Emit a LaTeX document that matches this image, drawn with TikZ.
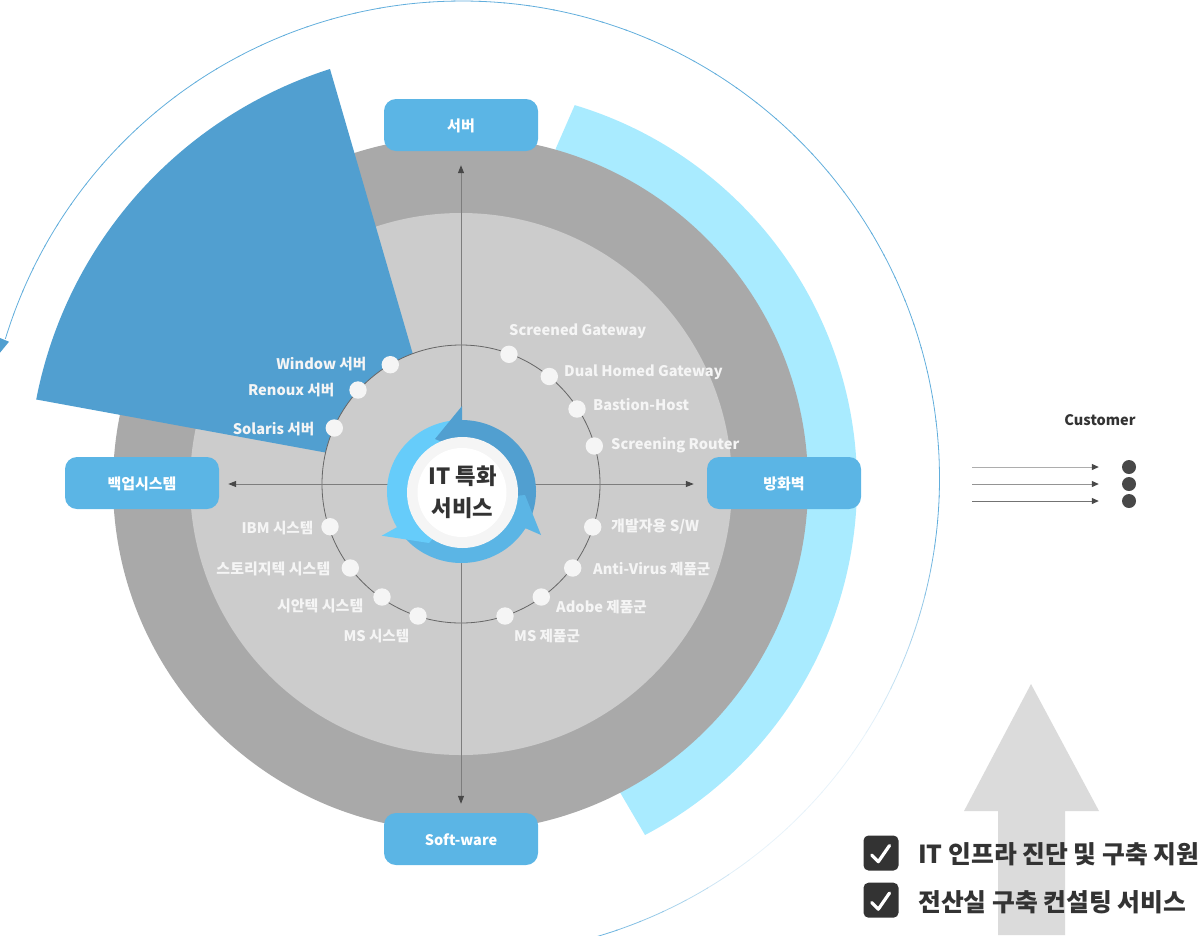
\documentclass[tikz,border=0pt]{standalone}
\usepackage{fontspec}
\setmainfont{Noto Sans CJK KR}
\usetikzlibrary{arrows.meta}
\definecolor{gOuter}{HTML}{A9A9A9}
\definecolor{gInner}{HTML}{CCCCCC}
\definecolor{skyPale}{HTML}{A9EBFF}
\definecolor{blueDark}{HTML}{519FD0}
\definecolor{blueMid}{HTML}{5BB5E5}
\definecolor{blueLight}{HTML}{66CCFA}
\definecolor{arcBlue}{HTML}{62AEDC}
\definecolor{dotWhite}{HTML}{F5F5F5}
\definecolor{inkDark}{HTML}{333333}
\definecolor{axisGray}{HTML}{7D7D7D}
\definecolor{tipGray}{HTML}{484848}
\tikzset{
  x=1pt,y=1pt,
  catbox/.style={draw=none,fill=blueMid,rounded corners=12pt,minimum width=154pt,minimum height=52pt,inner sep=0pt,text=white,text height=13pt,text depth=0pt,font=\fontsize{15}{15}\selectfont\bfseries},
  ringdot/.style={circle,fill=dotWhite,draw=none,minimum size=17.4pt,inner sep=0pt},
  itemlabel/.style={text=dotWhite,font=\fontsize{14.6}{15}\selectfont\bfseries,inner sep=0pt},
  korlabel/.style={itemlabel,font=\fontsize{15}{15}\selectfont\bfseries},
  axisline/.style={draw=axisGray,line width=1pt,{Triangle[length=8pt,width=6pt,color=tipGray]}-{Triangle[length=8pt,width=6pt,color=tipGray]}},
  custline/.style={line width=1pt,-{Triangle[length=7pt,width=6pt,color=tipGray]},shorten >=23pt},
  custdot/.style={circle,fill=tipGray,draw=none,minimum size=14pt,inner sep=0pt},
  checkbox/.style={fill=inkDark,draw=none,rounded corners=5pt,minimum width=35pt,minimum height=35pt,inner sep=0pt},
  checkmark/.style={draw=white,line width=3.2pt,line cap=round,line join=round},
  checktext/.style={text=inkDark,font=\fontsize{24.8}{25}\selectfont\bfseries,inner sep=0pt,anchor=west}
}
\begin{document}
\begin{tikzpicture}
\useasboundingbox (0,0) rectangle (1201,-935);
\coordinate (C) at (461,-484);
% big grey arrow
\fill[fill=black!14] (1031,-684) -- (1099,-811) -- (1065,-811) -- (1065,-935) -- (998,-935) -- (998,-811) -- (964,-811) -- cycle;
% pale sector
\fill[skyPale] (621,-794) -- (645,-835) arc[start angle=-62.3,end angle=73.3,radius=396pt] -- (556,-148) -- (C) -- cycle;
% thin outer arc
\begin{scope}
\clip (0,0) rectangle (1201,-935);
\foreach \a in {163,160,...,-73}{
  \pgfmathsetmacro{\pct}{\a>-5 ? 100 : (\a>-30 ? 100-(-5-\a)*3.4 : (\a>-52 ? 15 : min(100,15+(-52-\a)*4.1)))}
  \pgfmathsetmacro{\b}{\a-3.2}
  \draw[arcBlue!\pct!white,line width=0.8pt] (462,-478.5) ++(\a:477.5pt) arc[start angle=\a,end angle=\b,radius=477.5pt];
}
\fill[blueDark] (0,-338) -- (9,-341.7) -- (0,-352.7) -- cycle;
\end{scope}
% discs
\fill[gOuter] (460.5,-484) circle[radius=347.5pt];
\fill[gInner] (461,-484) circle[radius=271pt];
\fill[blueDark] (448,-475) -- (330,-69) arc[start angle=107.66,end angle=169.07,radius=433pt] -- cycle;
\filldraw[fill=gInner,draw=black!60,line width=0.8pt] (461,-484) circle[radius=139pt];
% boxes
\node[catbox] (srv) at (461,-125) {서버};
\node[catbox,font=\fontsize{14.5}{15}\selectfont\bfseries] (sw) at (461,-839) {Soft-ware};
\node[catbox] (bak) at (142,-483) {백업시스템};
\node[catbox] (fw) at (784,-483) {방화벽};
% axes
\draw[axisline,shorten <=14pt,shorten >=9pt] (srv.south) -- (sw.north);
\draw[axisline,shorten <=9pt,shorten >=13pt] (bak.east |- C) -- (fw.west |- C);
% centre ring
\coordinate (R) at (461.5,-491.5);
\fill[blueLight] (R) -- ++(-139:74.5pt and 71.5pt) arc[start angle=-139,end angle=-270,x radius=74.5pt,y radius=71.5pt] -- cycle;
\fill[blueDark] (R) -- ++(90:74.5pt and 71.5pt) arc[start angle=90,end angle=-32,x radius=74.5pt,y radius=71.5pt] -- cycle;
\fill[blueMid] (R) -- ++(-30:74.5pt and 71.5pt) arc[start angle=-30,end angle=-139,x radius=74.5pt,y radius=71.5pt] -- cycle;
\fill[blueDark] (462,-406) -- (435,-439) -- (462,-450) -- (462,-420) -- cycle;
\fill[blueMid] (525,-528) -- (541,-535) -- (525,-495) -- (505,-497) -- (500,-520) -- cycle;
\fill[blueLight] (381.7,-535.7) -- (397.3,-527) -- (420,-500) -- (440,-530) -- (429,-543) -- cycle;
\fill[dotWhite] (462.5,-492.5) circle[radius=55.5pt];
\fill[white] (462,-492.5) circle[radius=44.5pt];
\node[inner sep=0pt,align=center,text=inkDark,font=\fontsize{22.3}{32}\selectfont\bfseries] (ctr) at (462.5,-492.5) {IT 특화\\서비스};
% dots
\node[ringdot] (d1) at (390.3,-364.7) {};
\node[ringdot] (d2) at (358,-390) {};
\node[ringdot] (d3) at (334.3,-428) {};
\node[ringdot] (d4) at (509,-354.3) {};
\node[ringdot] (d5) at (549.3,-376.5) {};
\node[ringdot] (d6) at (577,-409) {};
\node[ringdot] (d7) at (594.3,-446) {};
\node[ringdot] (d8) at (330,-526.7) {};
\node[ringdot] (d9) at (350.3,-568) {};
\node[ringdot] (d10) at (382,-597) {};
\node[ringdot] (d11) at (418,-616) {};
\node[ringdot] (d12) at (592.7,-527) {};
\node[ringdot] (d13) at (572.7,-568) {};
\node[ringdot] (d14) at (541.3,-597) {};
\node[ringdot] (d15) at (505,-616) {};
% labels
\node[itemlabel,anchor=east] (l1) at (366.5,-364) {Window 서버};
\node[itemlabel,anchor=east] (l2) at (334.5,-390) {Renoux 서버};
\node[itemlabel,anchor=east] (l3) at (314.5,-429) {Solaris 서버};
\node[itemlabel,anchor=west] (l4) at (509,-331) {Screened Gateway};
\node[itemlabel,anchor=west] (l5) at (564,-372) {Dual Homed Gateway};
\node[itemlabel,anchor=west] (l6) at (593,-404.5) {Bastion-Host};
\node[itemlabel,anchor=west] (l7) at (611,-445) {Screening Router};
\node[itemlabel,anchor=east] (l8) at (313.5,-528) {IBM 시스템};
\node[korlabel,anchor=east] (l9) at (330.5,-569) {스토리지텍 시스템};
\node[korlabel,anchor=east] (l10) at (363.5,-606) {시안텍 시스템};
\node[itemlabel,anchor=east] (l11) at (409.5,-636) {MS 시스템};
\node[korlabel,anchor=west] (l12) at (611,-527) {개발자용 S/W};
\node[itemlabel,anchor=west] (l13) at (593,-569) {Anti-Virus 제품군};
\node[itemlabel,anchor=west] (l14) at (556,-607) {Adobe 제품군};
\node[itemlabel,anchor=west] (l15) at (514,-636) {MS 제품군};
% customer
\node[text=inkDark,inner sep=0pt,font=\fontsize{14.5}{15}\selectfont\bfseries] (cust) at (1100,-420) {Customer};
\node[custdot] (c1) at (1129,-467) {};
\node[custdot] (c2) at (1129,-484) {};
\node[custdot] (c3) at (1129,-501) {};
\coordinate (s1) at (972,-467);
\coordinate (s2) at (972,-484);
\coordinate (s3) at (972,-501);
\draw[custline,draw=black!32] (s1) -- (c1.west);
\draw[custline,draw=black!42] (s2) -- (c2.west);
\draw[custline,draw=black!55] (s3) -- (c3.west);
% checklist
\node[checkbox] (b1) at (881,-853) {};
\node[checkbox] (b2) at (881,-900.2) {};
\draw[checkmark] (871.7,-855) -- (878.3,-861.7) -- (889.5,-845.5);
\draw[checkmark] (871.7,-902.5) -- (878.3,-909.2) -- (889.5,-893);
\node[checktext] (t1) at (918,-854.5) {IT 인프라 진단 및 구축 지원};
\node[checktext] (t2) at (918,-902) {전산실 구축 컨설팅 서비스};
\end{tikzpicture}
\end{document}
